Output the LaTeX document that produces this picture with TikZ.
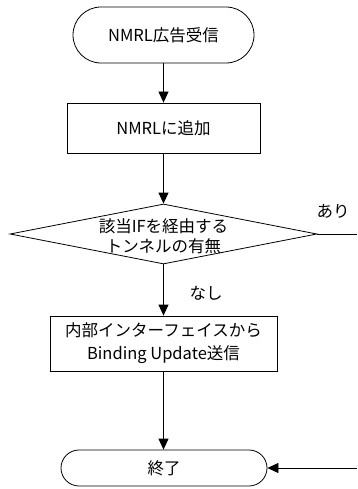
\documentclass[tikz,border=0pt]{standalone}
\usepackage{fontspec}
\setmainfont{Noto Sans CJK JP}
\usetikzlibrary{arrows.meta,shapes.geometric}
\begin{document}
\begin{tikzpicture}[x=1pt,y=-1pt,
  every node/.style={font=\fontsize{16.5}{21}\selectfont,inner sep=0pt},
  term/.style={draw,line width=0.8pt,rounded corners=18pt,minimum height=36pt,align=center},
  procbox/.style={draw,line width=0.8pt,align=center},
  flow/.style={line width=0.8pt,-{Triangle[width=10pt,length=11pt]}},
  plain/.style={line width=0.8pt}]
\useasboundingbox (0,0) rectangle (357,489);
\node[term,minimum width=181pt,minimum height=56pt,rounded corners=28pt] (start) at (163.5,35) {NMRL広告受信};
\node[procbox,minimum width=193pt,minimum height=50pt] (add) at (163.5,128) {NMRLに追加};
\node[draw,line width=0.8pt,diamond,aspect=5.1,minimum width=307pt,minimum height=60pt,inner sep=0pt,align=center] (dec) at (163.5,234) {};
\node[align=center,font=\fontsize{16.5}{20}\selectfont] (dect) at (163.5,236) {該当IFを経由する\\トンネルの有無};
\node[procbox,minimum width=227pt,minimum height=55pt,font=\fontsize{16.5}{23}\selectfont] (send) at (163.5,343.5) {内部インターフェイスから\\Binding Update送信};
\node[term,minimum width=206pt] (stop) at (164,468) {終了};
\node (yes) at (333,211) {あり};
\node (no) at (206,293) {なし};
\coordinate (rA) at (357,234);
\coordinate (rB) at (357,468);
\draw[flow] (start) -- (add);
\draw[flow] (add) -- (dec.north);
\draw[flow] (dec.south) -- (send);
\draw[flow] (send.south) -- (send.south |- stop.north);
\draw[plain] (dec.east) -- (rA);
\draw[flow] (rB) -- (stop.east);
\end{tikzpicture}
\end{document}
